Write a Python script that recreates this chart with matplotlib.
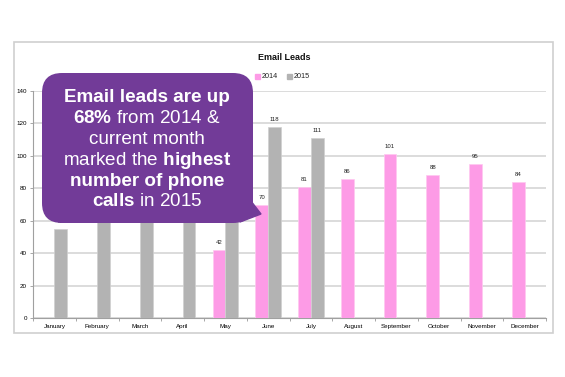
import numpy as np
import matplotlib
matplotlib.use("Agg")
from matplotlib import pyplot as plt
from matplotlib.patches import FancyBboxPatch, Rectangle, Polygon

# data (Feb-May 2015 tops are hidden under the bubble, guessed)
months = ["January", "February", "March", "April", "May", "June",
          "July", "August", "September", "October", "November", "December"]
leads_2014 = [None, None, None, None, 42, 70, 81, 86, 101, 88, 95, 84]
leads_2015 = [55, 64, 70, 68, 66, 118, 111, None, None, None, None, None]
y_ticks = [0, 20, 40, 60, 80, 100, 120, 140]

# bubble text, bold words marked with mathtext \mathbf
bubble_lines = [
    (r"Email leads are up", True),
    (r"$\mathbf{68\%}$ from 2014 &", False),
    (r"current month", False),
    (r"marked the $\mathbf{highest}$", False),
    (r"number of phone", True),
    (r"$\mathbf{calls}$ in 2015", False),
]

pink = "#fd9be6"
grey = "#b3b3b3"
purple = "#723b98"

plt.rcParams['font.family'] = ['Liberation Sans', 'DejaVu Sans']
plt.rcParams['mathtext.fontset'] = 'custom'
plt.rcParams['mathtext.rm'] = 'Liberation Sans'
plt.rcParams['mathtext.bf'] = 'Liberation Sans:bold'

W, H = 565, 377
fig = plt.figure(figsize=(W / 100, H / 100), dpi=100)

def fx(px):
    return px / W

def fy(py):
    return 1 - py / H

# main chart axes
ax = fig.add_axes([fx(33), fy(318), fx(546) - fx(33), fy(91) - fy(318)])
x = np.arange(len(months))
bw = 0.3
v14 = [np.nan if v is None else v for v in leads_2014]
v15 = [np.nan if v is None else v for v in leads_2015]
ax.bar(x - bw / 2, v14, bw, color=pink, edgecolor="#ffc8f0", linewidth=0.5, label="2014", zorder=3)
ax.bar(x + bw / 2, v15, bw, color=grey, edgecolor="#d0d0d0", linewidth=0.5, label="2015", zorder=3)
for xi, v in zip(x - bw / 2, leads_2014):
    if v is not None:
        ax.text(xi, v + 3, str(v), ha="center", va="bottom", fontsize=4.3, color="#222222")
for xi, v in zip(x + bw / 2, leads_2015):
    if v is not None:
        ax.text(xi, v + 3, str(v), ha="center", va="bottom", fontsize=4.3, color="#222222")

ax.set_xlim(-0.5, len(months) - 0.5)
ax.set_ylim(0, 140)
ax.set_yticks(y_ticks)
ax.tick_params(axis="y", labelsize=4.5, length=2.5, width=0.6, color="#999999", pad=2)
ax.set_xticks(x)
ax.set_xticklabels(months)
ax.tick_params(axis="x", which="major", length=0, labelsize=4.5, pad=4)
ax.set_xticks(np.arange(-0.5, len(months)), minor=True)
ax.tick_params(axis="x", which="minor", length=2.5, width=0.6, color="#999999")
ax.yaxis.grid(True, color="#d6d6d6", linewidth=1.2, zorder=0)
ax.set_axisbelow(True)
for s in ["top", "right"]:
    ax.spines[s].set_visible(False)
for s in ["left", "bottom"]:
    ax.spines[s].set_color("#a0a0a0")
    ax.spines[s].set_linewidth(0.8)

# overlay in pixel coordinates
ov = fig.add_axes([0, 0, 1, 1], zorder=10)
ov.set_xlim(0, W)
ov.set_ylim(H, 0)
ov.axis("off")
ov.patch.set_alpha(0)

ov.add_patch(Rectangle((14, 42), 553 - 14, 333 - 42, fill=False, edgecolor="#cfcfcf", linewidth=1.2))
ov.text(284, 57, "Email Leads", ha="center", va="center", fontsize=6.5, fontweight="bold", color="#111111")
ov.add_patch(Rectangle((255, 74), 5, 5, color=pink))
ov.text(262, 77, "2014", ha="left", va="center", fontsize=5.2, color="#222222")
ov.add_patch(Rectangle((287, 74), 5, 5, color=grey))
ov.text(294, 77, "2015", ha="left", va="center", fontsize=5.2, color="#222222")

# speech bubble
ov.add_patch(Polygon([(244, 192), (261, 214), (240, 222)], closed=True, color=purple, zorder=1))
ov.add_patch(FancyBboxPatch((42, 73), 253 - 42, 223 - 73,
                            boxstyle="round,pad=0,rounding_size=20",
                            facecolor=purple, edgecolor="none", zorder=1))

cx = 147
y0 = 98
dy = 20.8
for i, (line, bold) in enumerate(bubble_lines):
    ov.text(cx, y0 + i * dy, line, fontsize=13.6, fontweight="bold" if bold else "normal",
            color="white", ha="center", va="center", zorder=2)

fig.savefig("out.png", dpi=100)
